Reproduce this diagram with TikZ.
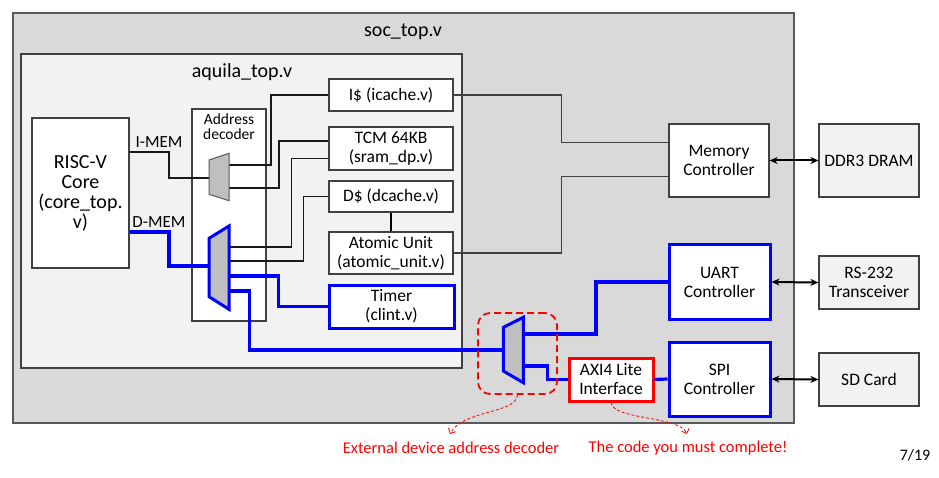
\documentclass[tikz,border=0pt]{standalone}
\usepackage{fontspec}
\setmainfont{Carlito}
\usetikzlibrary{arrows.meta}
\definecolor{socfill}{HTML}{D9D9D9}
\definecolor{aqfill}{HTML}{F2F2F2}
\definecolor{extfill}{HTML}{F2F2F2}
\definecolor{muxgray}{HTML}{BFBFBF}
\definecolor{edgegray}{HTML}{404040}
\definecolor{pure}{HTML}{0000FF}
\definecolor{alert}{HTML}{FF0000}
\begin{document}
\begin{tikzpicture}[x=1pt,y=-1pt,
  box/.style={draw=edgegray, line width=1.2pt, fill=white, inner sep=0pt, align=center,
    font=\fontsize{17.5}{19}\selectfont},
  bluebox/.style={box, draw=pure, line width=3pt},
  redbox/.style={box, draw=alert, line width=3pt},
  extbox/.style={box, fill=extfill, draw=edgegray},
  wire/.style={draw=black!90, line width=1.2pt},
  graywire/.style={draw=edgegray, line width=1.3pt},
  bus/.style={draw=pure, line width=3.2pt},
  mux/.style={fill=muxgray, draw=black!65, line width=1pt},
  bluemux/.style={fill=muxgray, draw=pure, line width=3pt, line join=miter},
  bidir/.style={{Stealth[length=8pt,width=7pt]}-{Stealth[length=8pt,width=7pt]}, line width=2pt},
  note/.style={draw=alert, line width=0.8pt, dash pattern=on 3pt off 2pt, -{Straight Barb[length=4pt,width=8pt]}},
  title/.style={font=\fontsize{20}{20}\selectfont, inner sep=0pt},
  redtext/.style={font=\fontsize{16.5}{18}\selectfont, text=alert, inner sep=0pt},
  sig/.style={font=\fontsize{17}{18}\selectfont, inner sep=0pt}
]
\useasboundingbox (0,0) rectangle (939,478);

% containers
\node[draw=black!65, fill=socfill, line width=1.5pt, minimum width=781pt, minimum height=410pt, inner sep=0pt] (soc) at (403.5,218) {};
\node[title] (soclbl) at (403,32) {soc\_top.v};
\node[draw=edgegray, fill=aqfill, line width=1.3pt, minimum width=441pt, minimum height=314pt, inner sep=0pt] (aquila) at (241.5,211) {};
\node[title] (aqlbl) at (242,72) {aquila\_top.v};

% core and address decoder
\node[box, font=\fontsize{20}{20}\selectfont, minimum width=97pt, minimum height=150pt] (core) at (80.5,193) {RISC-V\\Core\\(core\_top.\\v)};
\node[box, minimum width=74pt, minimum height=212pt] (addr) at (229,215) {};
\node[font=\fontsize{15.5}{15}\selectfont, align=center, inner sep=0pt] (addrlbl) at (229,127) {Address\\decoder};
\node[sig] (imem) at (159,142) {I-MEM};
\node[sig] (dmem) at (159,222) {D-MEM};

% memory boxes
\node[box, minimum width=124pt, minimum height=32pt] (icache) at (391,95) {I\$ (icache.v)};
\node[box, minimum width=124pt, minimum height=43pt] (tcm) at (391,148.5) {TCM 64KB\\(sram\_dp.v)};
\node[box, minimum width=124pt, minimum height=31pt] (dcache) at (391,196.5) {D\$ (dcache.v)};
\node[box, minimum width=124pt, minimum height=42pt] (atomic) at (391,253) {Atomic Unit\\(atomic\_unit.v)};
\node[bluebox, minimum width=125pt, minimum height=43pt] (timer) at (391.5,306.5) {Timer\\(clint.v)};

% peripherals
\node[box, minimum width=100pt, minimum height=73pt] (mc) at (719,160.5) {Memory\\Controller};
\node[extbox, minimum width=100pt, minimum height=73pt] (ddr) at (869,160.5) {DDR3 DRAM};
\node[bluebox, minimum width=101pt, minimum height=74pt] (uart) at (719.5,282) {UART\\Controller};
\node[extbox, minimum width=100pt, minimum height=53pt] (rs) at (869,282.5) {RS-232\\Transceiver};
\node[bluebox, minimum width=101pt, minimum height=74pt] (spi) at (719.5,379) {SPI\\Controller};
\node[extbox, minimum width=100pt, minimum height=53pt] (sd) at (869,379.5) {SD Card};
\node[redbox, minimum width=84pt, minimum height=43pt] (axi) at (611,379.5) {AXI4 Lite\\Interface};

% mux ports
\coordinate (imuxin) at (209,178);
\coordinate (imuxa) at (229,165);
\coordinate (imuxb) at (229,188);
\coordinate (dmuxin) at (209,266);
\coordinate (dmuxa) at (229,247);
\coordinate (dmuxb) at (229,261);
\coordinate (dmuxc) at (229,276);
\coordinate (dmuxd) at (229,291);
\coordinate (emuxin) at (503.3,350);
\coordinate (emuxa) at (523.3,334);
\coordinate (emuxb) at (523.3,366);

% thin wires
\draw[wire] (core.east |- 0,152) -| (169,178) -- (imuxin);
\draw[wire] (imuxa) -| (271,95) -- (icache.west);
\draw[wire] (imuxb) -| (279,141) -- (tcm.west |- 0,141);
\draw[wire] (dmuxa) -| (291.5,158.5) -- (tcm.west |- 0,158.5);
\draw[wire] (dmuxb) -| (303.5,196.5) -- (dcache.west);
\draw[draw=black, line width=2pt] (dcache.south) -- (atomic.north);
\draw[graywire] (icache.east) -| (561.7,142.7) -- (mc.west |- 0,142.7);
\draw[graywire] (atomic.east) -| (561.7,176.7) -- (mc.west |- 0,176.7);

% buses
\draw[bus] (core.east |- 0,232) -| (169,266) -- (dmuxin);
\draw[bus] (dmuxc) -| (278.5,306.5) -- (timer.west);
\draw[bus] (dmuxd) -| (249.3,350) -- (emuxin);
\draw[bus] (emuxa) -| (596,282) -- (uart.west);
\draw[bus] (emuxb) -| (547.3,379.5) -- (axi.west);
\draw[bus] (axi.east) -- (spi.west);

% muxes
\draw[mux] (209,160) -- (229,153.3) -- (229,200.7) -- (209,194.3) -- cycle;
\draw[bluemux] (209,238.3) -- (229,226) -- (229,309.3) -- (209,296.7) -- cycle;
\draw[bluemux] (503.3,327.3) -- (523.3,317.3) -- (523.3,382.7) -- (503.3,371) -- cycle;

% external links
\draw[bidir] (mc.east) -- (ddr.west);
\draw[bidir] (uart.east) -- (rs.west);
\draw[bidir] (spi.east) -- (sd.west);

% annotations
\node[draw=alert, line width=1.8pt, dash pattern=on 7pt off 4pt, rounded corners=12pt, minimum width=79pt, minimum height=81pt, inner sep=0pt] (zone) at (517.5,353.5) {};
\draw[note] (zone.south) .. controls (516,414) and (462,410) .. (450,434);
\draw[note] (axi.south) .. controls (613,420) and (680,416) .. (687,434);
\node[redtext] (lbl1) at (451,448) {External device address decoder};
\node[redtext] (lbl2) at (688,448) {The code you must complete!};
\node[font=\fontsize{16}{18}\selectfont, inner sep=0pt] (page) at (915,455) {7/19};
\end{tikzpicture}
\end{document}
